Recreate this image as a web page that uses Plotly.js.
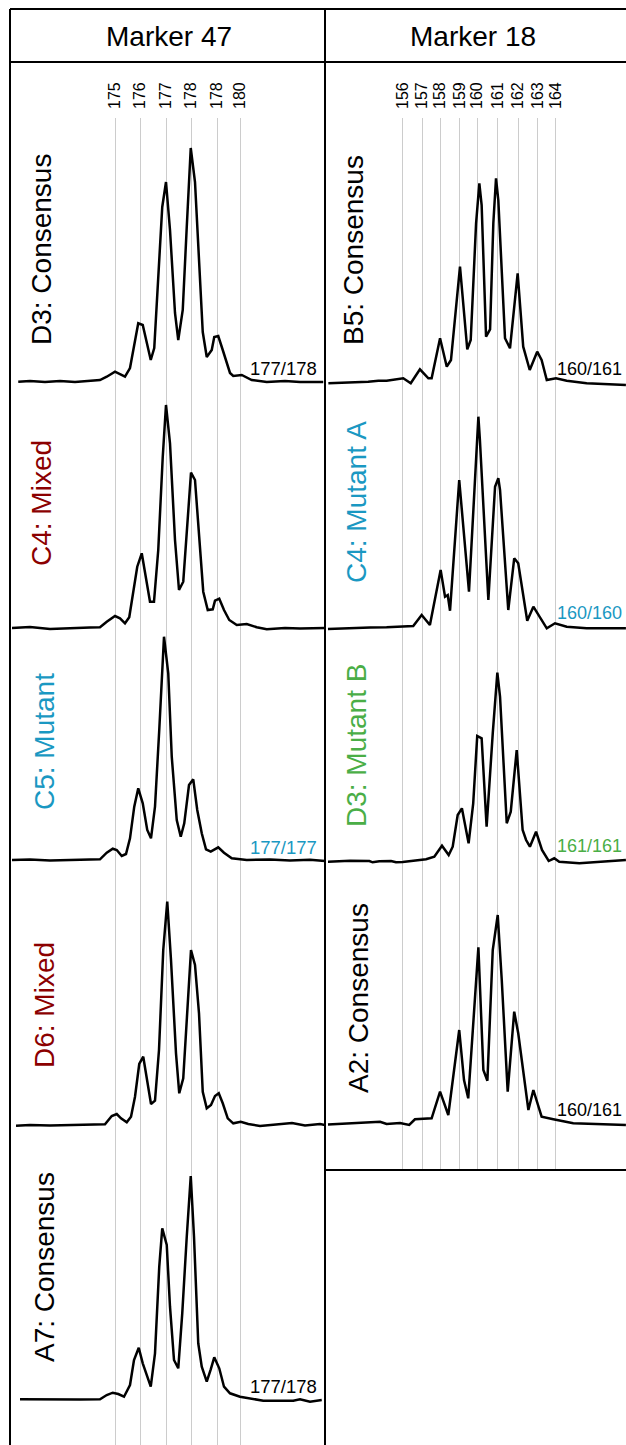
<!DOCTYPE html>
<html>
<head>
<meta charset="utf-8">
<script src="https://cdn.plot.ly/plotly-3.0.1.min.js"></script>
<style>
html,body{margin:0;padding:0;background:#fff;}
#chart{width:626px;height:1445px;}
</style>
</head>
<body>
<div id="chart"></div>
<script>
// ---------- DATA ----------
const markerTitles = ["Marker 47", "Marker 18"];

const m47TickVals = [175, 176, 177.04, 178.04, 179.09, 180];
const m47TickText = ["175", "176", "177", "178", "178", "180"];
const m18TickVals = [156, 157.02, 157.95, 158.99, 159.89, 160.94, 162.03, 163.06, 164.0];
const m18TickText = ["156", "157", "158", "159", "160", "161", "162", "163", "164"];

// Marker 47 panels (size in bp, relative intensity)
const m47_D3_bp = [171.13,171.6,172.2,172.8,173.4,174.0,174.4,174.67,175.0,175.4,175.6,175.93,176.11,176.43,176.57,176.89,177.04,177.2,177.4,177.53,177.71,177.87,178.03,178.2,178.37,178.51,178.67,178.87,178.97,179.13,179.31,179.6,179.73,180.07,180.47,181.07,181.8,182.4,183.33];
const m47_D3_int = [-0.7,0,-1,0,-1,0,1,4.3,9.3,4.3,13,57.7,56,21,33,174,199,151,68,41,71,154,233,199,118,49,24,31,44,45,31,8,5,6,1,-1,0,-1,-1];

const m47_C4_bp = [170.88,171.6,172.4,173.2,174.0,174.4,174.67,175.0,175.2,175.4,175.57,175.89,176.07,176.4,176.56,176.73,176.91,177.04,177.2,177.4,177.56,177.73,178.04,178.2,178.37,178.53,178.71,178.91,179.0,179.17,179.36,179.57,179.87,180.27,180.67,181.07,181.8,182.4,183.4];
const m47_C4_int = [0,1,-1,0,0.5,0.7,6.3,12,9.7,4.7,10.7,61.3,74.7,26.3,26.3,78,171.3,223,184.7,88,38,46.3,155.3,148,91.3,36.3,18,18.7,27.3,29.3,18,8,3,4,0.7,-1.3,0,-0.5,0];

const m47_C5_bp = [170.88,171.6,172.4,173.2,174.0,174.4,174.67,174.91,175.07,175.27,175.44,175.6,175.77,175.93,176.11,176.29,176.44,176.6,176.77,176.96,177.13,177.27,177.47,177.63,177.77,177.96,178.13,178.29,178.47,178.64,178.83,179.13,179.36,179.67,180.27,181.2,182.0,182.8,183.4];
const m47_C5_int = [0,0.5,-0.5,0,0.5,0.7,7.3,11.3,10,4,6,21.7,53.3,71.7,56.7,30,21.7,53.3,130,223.3,186.7,103.3,40,23.3,36.7,75,80.7,50,26.7,10.7,8.3,12.7,7.3,1.7,0,0.5,-0.5,0.3,-1];

const m47_D6_bp = [171.04,171.6,172.4,173.2,174.0,174.6,174.87,175.07,175.24,175.47,175.64,175.8,175.97,176.13,176.44,176.6,176.76,176.93,177.09,177.24,177.44,177.57,177.73,178.04,178.2,178.36,178.51,178.67,178.84,179.0,179.15,179.31,179.51,179.73,180.03,180.33,180.8,181.6,182.08,182.6,183.2,183.4];
const m47_D6_int = [-0.7,0,-0.5,0,0.3,0.7,9,11,6.7,2.7,8.3,28.3,61,68.3,21,24.3,75,175,223.3,165,71.7,31.7,46.7,175,160,111.7,33.3,16.7,20,29,31.7,21.7,6.7,1.7,3.3,1,-1,0.5,2,-0.5,1,0];

const m47_A7_bp = [171.2,172.0,172.8,173.6,174.4,174.67,174.91,175.13,175.36,175.6,175.76,175.95,176.11,176.43,176.6,176.77,176.89,176.97,177.07,177.2,177.36,177.53,177.69,177.87,178.03,178.16,178.33,178.47,178.67,178.83,178.97,179.17,179.36,179.6,180.0,180.93,181.6,182.13,182.4,182.8,183.27];
const m47_A7_int = [0.7,0.5,0.7,0.5,0.7,5,7.3,6,3.3,15,40,52.3,36.7,13.3,46.7,133.3,171.7,163.3,155,93.3,40,31.7,86.7,163.3,224,163.3,56.7,33.3,18.3,30.7,42.7,31.7,13.3,6.7,3.3,-0.7,-1,-0.7,0.7,-1.7,0];

// Marker 18 panels
const m18_B5_bp = [152.12,153.42,154.2,154.73,155.16,156.03,156.42,156.9,157.34,157.51,157.95,158.3,158.52,158.99,159.37,159.55,159.83,160.0,160.12,160.35,160.56,160.73,160.87,160.99,161.34,161.6,162.0,162.29,162.63,163.02,163.25,163.52,164.0,164.56,165.6,167.65];
const m18_B5_int = [-1.3,-0.7,0.3,1.3,1.3,3.7,-1.3,12.7,3.7,3.7,43.7,15.3,22,115.3,32.7,42,158.7,198.7,177,45.3,52.7,158.7,203.7,182,43.7,33.7,108.7,35.3,12,30.3,22,2,3.7,1.3,-1.3,-3];

const m18_C4_bp = [152.1,153.25,154.3,155.16,156.55,156.99,157.42,157.98,158.21,158.35,158.47,158.95,159.46,159.95,160.03,160.47,160.82,160.99,161.08,161.51,161.82,162.03,162.5,162.82,163.52,163.95,164.56,165.6,167.65];
const m18_C4_int = [-1,0,0.5,0.7,2,13,3,58,31.3,33,17.3,148,36.3,211.3,188,28,141.3,149.7,138,18,69.7,64.7,7.3,21.3,-0.3,4.7,1.3,-0.3,-0.3];

const m18_D3_bp = [152.1,153.25,154.26,154.43,154.78,155.39,155.65,156.0,157.22,157.65,158.05,158.4,158.61,158.87,159.09,159.44,159.68,159.89,160.12,160.38,160.7,160.94,161.08,161.43,161.64,161.95,162.26,162.44,162.64,162.96,163.27,163.62,163.91,164.17,165.22,167.65];
const m18_D3_int = [-0.7,0.3,0,-1.3,-0.3,0,-1.3,-1,1.7,4.3,15.3,6,14.3,46,52.7,17.7,57.7,125,122.7,34.3,127.7,188.3,164.3,37.7,49.3,111,31,21,14.3,29.3,11,0,2.7,-0.7,-2.3,1];

const m18_A2_bp = [152.1,153.42,154.82,155.16,155.86,156.34,156.64,157.51,157.95,158.38,158.95,159.2,159.42,159.95,160.21,160.42,160.7,160.96,161.17,161.48,161.82,162.03,162.56,162.82,163.25,163.86,164.9,167.65];
const m18_A2_int = [-1.5,0,1.3,-1,0,-2,3.7,4.7,31.3,8,93,43,24.7,175.7,53,42.3,173,208,143,31.3,111.3,89.7,13,33,6.3,3.7,-0.3,-2];

const m47Samples = ["D3: Consensus", "C4: Mixed", "C5: Mutant", "D6: Mixed", "A7: Consensus"];
const m47Genotypes = ["177/178", "", "177/177", "", "177/178"];
const m47Status = ["consensus", "mixed", "mutant", "mixed", "consensus"];
const m18Samples = ["B5: Consensus", "C4: Mutant A", "D3: Mutant B", "A2: Consensus"];
const m18Genotypes = ["160/161", "160/160", "161/161", "160/161"];
const m18Status = ["consensus", "mutantA", "mutantB", "consensus"];

// ---------- STYLE / LAYOUT ----------
const W = 626, H = 1445;
const FONT = "Liberation Sans, Arial, Helvetica, sans-serif";
const statusColor = {consensus: "#000000", mixed: "#8b0000", mutant: "#1a98c2", mutantA: "#1a98c2", mutantB: "#4aae46"};
const X = p => p / W;
const Y = p => 1 - p / H;

const cols = [
  {left: 10, right: 325, gridTop: 118, gridBottom: 1445, tickVals: m47TickVals, tickText: m47TickText,
   range: [175 + (10 - 115) / 25, 175 + (325 - 115) / 25],
   panels: [[m47_D3_bp, m47_D3_int], [m47_C4_bp, m47_C4_int], [m47_C5_bp, m47_C5_int], [m47_D6_bp, m47_D6_int], [m47_A7_bp, m47_A7_int]],
   rows: [{base: 381, top: 120, bottom: 395}, {base: 628, top: 385, bottom: 640}, {base: 860, top: 620, bottom: 875},
          {base: 1125, top: 880, bottom: 1140}, {base: 1400, top: 1160, bottom: 1420}],
   samples: m47Samples, genotypes: m47Genotypes, status: m47Status,
   labelX: [42, 41, 44, 44, 44], labelY: [250, 503, 742, 1005, 1267],
   genoX: 319, genoAnchor: "right", genoY: [368, 0, 847, 0, 1386], genoSize: 18.5},
  {left: 325, right: 626, gridTop: 118, gridBottom: 1170, tickVals: m18TickVals, tickText: m18TickText,
   range: [156 + (325 - 402.7) / 19.16, 156 + (626 - 402.7) / 19.16],
   panels: [[m18_B5_bp, m18_B5_int], [m18_C4_bp, m18_C4_int], [m18_D3_bp, m18_D3_int], [m18_A2_bp, m18_A2_int]],
   rows: [{base: 382, top: 120, bottom: 395}, {base: 628, top: 385, bottom: 640}, {base: 861, top: 620, bottom: 875},
          {base: 1123, top: 880, bottom: 1140}],
   samples: m18Samples, genotypes: m18Genotypes, status: m18Status,
   labelX: [354, 356, 356, 358], labelY: [250, 502, 745, 998],
   genoX: 624, genoAnchor: "right", genoY: [369, 613, 846, 1110], genoSize: 18}
];

const layout = {
  width: W, height: H,
  margin: {l: 0, r: 0, t: 0, b: 0, pad: 0},
  paper_bgcolor: "#ffffff", plot_bgcolor: "rgba(0,0,0,0)",
  showlegend: false,
  font: {family: FONT, color: "#000"},
  shapes: [], annotations: []
};
const data = [];

let axisN = 1;
cols.forEach((c, ci) => {
  // background axes: gridlines + top tick labels
  const sfx = axisN === 1 ? "" : String(axisN);
  layout["xaxis" + sfx] = {domain: [X(c.left), X(c.right)], range: c.range, anchor: "y" + sfx, side: "top",
    tickmode: "array", tickvals: c.tickVals, ticktext: c.tickText, tickangle: -90,
    ticks: "", ticklabelstandoff: 8, tickfont: {size: 16, color: "#000", family: FONT},
    showgrid: true, gridcolor: "#cccccc", gridwidth: 1, zeroline: false, showline: false, fixedrange: true, visible: true};
  layout["yaxis" + sfx] = {domain: [Y(c.gridBottom), Y(c.gridTop)], range: [0, 1], anchor: "x" + sfx,
    showgrid: false, zeroline: false, showline: false, showticklabels: false, ticks: "", fixedrange: true};
  // empty placeholder so the background subplot is created
  data.push({x: [], y: [], xaxis: "x" + sfx, yaxis: "y" + sfx, type: "scatter", mode: "lines", hoverinfo: "skip"});
  axisN++;

  c.panels.forEach((p, ri) => {
    const r = c.rows[ri];
    const xid = "x" + axisN, yid = "y" + axisN;
    layout["xaxis" + axisN] = {domain: [X(c.left), X(c.right)], range: c.range, anchor: yid, visible: false, showgrid: false, zeroline: false, fixedrange: true};
    layout["yaxis" + axisN] = {domain: [Y(r.bottom), Y(r.top)], range: [r.base - r.bottom, r.base - r.top], anchor: xid, visible: false, showgrid: false, zeroline: false, fixedrange: true};
    data.push({x: p[0], y: p[1], xaxis: xid, yaxis: yid, type: "scatter", mode: "lines",
      line: {color: "#000", width: 2.5}, hoverinfo: "skip"});
    axisN++;

    const col = statusColor[c.status[ri]];
    layout.annotations.push({xref: "paper", yref: "paper", x: X(c.labelX[ri]), y: Y(c.labelY[ri]),
      xanchor: "center", yanchor: "middle", text: c.samples[ri], textangle: -90, showarrow: false,
      font: {family: FONT, size: 28, color: col}});
    if (c.genotypes[ri]) {
      layout.annotations.push({xref: "paper", yref: "paper", x: X(c.genoX), y: Y(c.genoY[ri]),
        xanchor: c.genoAnchor, yanchor: "middle", text: c.genotypes[ri], showarrow: false,
        font: {family: FONT, size: c.genoSize, color: col}});
    }
  });

  // column header
  layout.annotations.push({xref: "paper", yref: "paper", x: X(ci === 0 ? 169 : 473), y: Y(37),
    xanchor: "center", yanchor: "middle", text: markerTitles[ci], showarrow: false,
    font: {family: FONT, size: 28, color: "#000"}});
});

// frame lines
const frame = [[10, 9, 626, 9], [10, 62, 626, 62], [10, 9, 10, 1445], [325, 9, 325, 1445], [325, 1170, 626, 1170]];
frame.forEach(f => layout.shapes.push({type: "line", xref: "paper", yref: "paper",
  x0: X(f[0]), y0: Y(f[1]), x1: X(f[2]), y1: Y(f[3]), line: {color: "#000", width: 2}, layer: "above"}));

Plotly.newPlot("chart", data, layout, {staticPlot: true, displayModeBar: false});
</script>
</body>
</html>
